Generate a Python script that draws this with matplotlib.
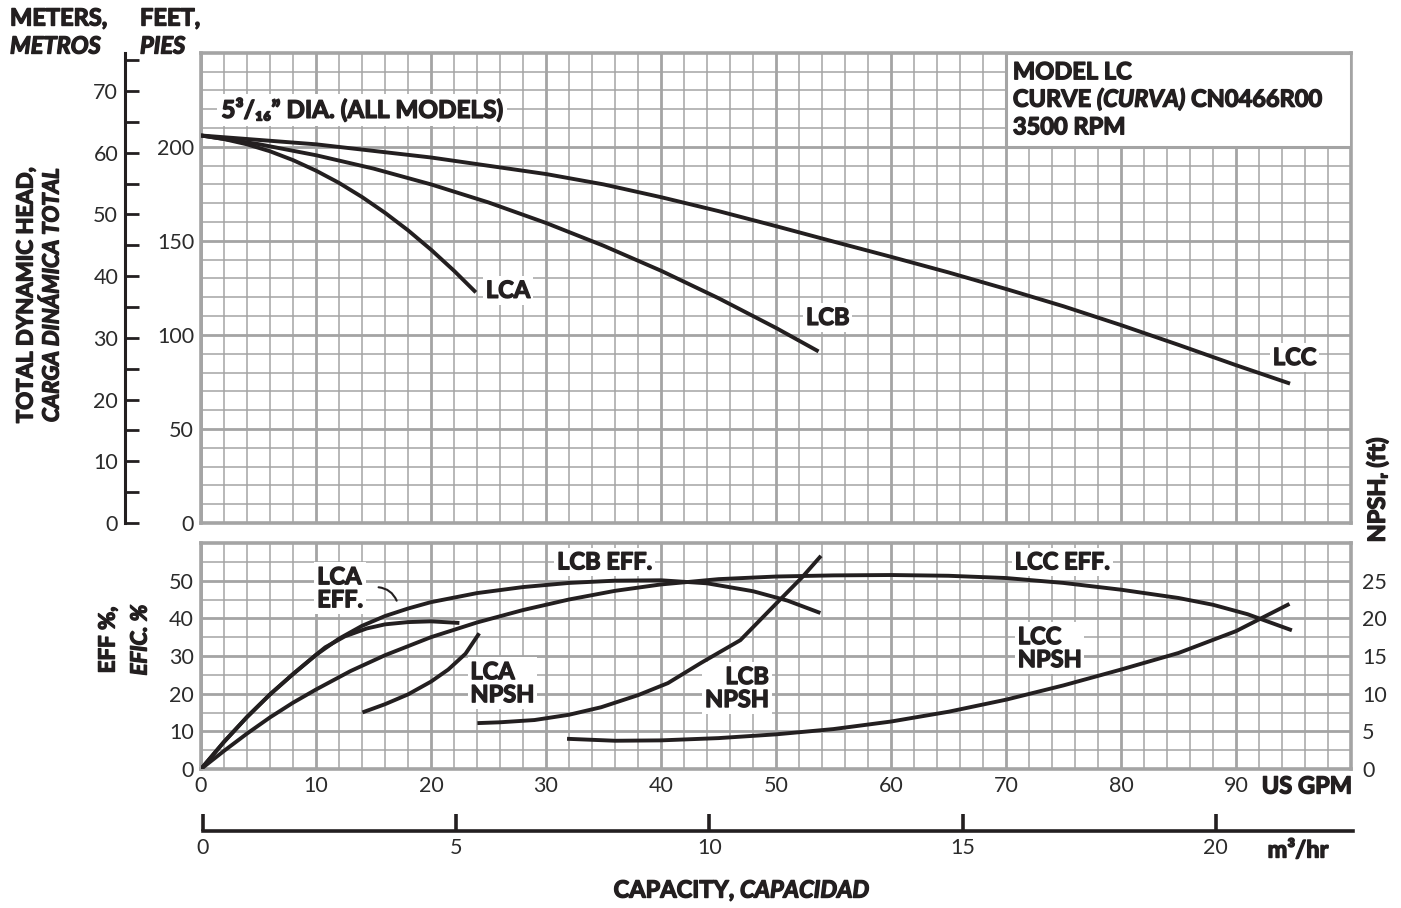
import matplotlib
matplotlib.use("Agg")
import matplotlib.pyplot as plt
import matplotlib.patheffects as pe
from matplotlib.ticker import MultipleLocator
from matplotlib.patches import Rectangle

plt.rcParams['font.family'] = ['Lato', 'DejaVu Sans']

BOLD = ['Lato', 'DejaVu Sans']
# the bold face installed is light next to the reference, so thicken it
FX = [pe.withStroke(linewidth=1.0, foreground='#231f20')]

# ---- data (GPM, feet / %) ----
lca_gpm = [0, 2, 4, 6, 8, 10, 12, 14, 16, 18, 20, 22, 23.9]
lca_head = [206, 204.1, 201.3, 197.6, 192.9, 187.3, 180.8, 173.3, 164.9, 155.6,
            145.3, 134.1, 122.6]

lcb_gpm = [0, 5, 10, 15, 20, 25, 30, 35, 40, 45, 50, 53.7]
lcb_head = [206, 201.4, 195.5, 188.4, 180.0, 170.4, 159.5, 147.4, 134.1, 119.5,
            103.7, 91.2]

lcc_gpm = [0, 10, 20, 30, 35, 40, 45, 50, 55, 60, 65, 70, 75, 80, 85, 90, 94.7]
lcc_head = [206, 201.3, 194.3, 185.5, 180, 173.2, 165.8, 157.8, 149.6, 141.5,
            133.2, 124.4, 115.2, 105.2, 94.7, 83.9, 74.1]

lca_eff_gpm = [0, 2, 4, 6, 8, 10, 10.8, 12.5, 14.4, 16, 18, 20, 22.3]
lca_eff = [0, 7.2, 13.8, 19.8, 25.2, 30.3, 32.3, 35.2, 37.3, 38.4, 39.0, 39.2, 38.8]

lcb_eff_gpm = [0, 2, 4, 6, 8, 10, 12, 14, 16, 18, 20, 24, 28, 32, 36, 40, 44,
               48, 51, 53.7]
lcb_eff = [0, 7.2, 13.8, 19.8, 25.2, 30.3, 34.6, 38.0, 40.6, 42.6, 44.3, 46.7,
           48.3, 49.4, 50.0, 50.1, 49.3, 47.2, 44.7, 41.6]

lcc_eff_gpm = [0, 2, 4, 6, 8, 10, 13, 16, 20, 24, 28, 32, 36, 40, 45, 50, 55,
               60, 65, 70, 75, 80, 85, 88, 91, 94.7]
lcc_eff = [0, 4.8, 9.4, 13.7, 17.6, 21.1, 26.0, 30.2, 35.0, 38.9, 42.2, 45.0,
           47.3, 49.0, 50.4, 51.1, 51.4, 51.5, 51.3, 50.7, 49.4, 47.6, 45.4,
           43.6, 41.1, 37.0]

lca_npsh_gpm = [14.2, 16, 18, 20, 21.5, 23, 24.1]
lca_npsh = [7.6, 8.6, 9.9, 11.6, 13.2, 15.3, 17.8]

lcb_npsh_gpm = [24.2, 26, 29, 32, 34.8, 38, 40.6, 43.5, 46.9, 50.3, 52.3, 53.8]
lcb_npsh = [6.1, 6.2, 6.5, 7.2, 8.2, 9.8, 11.4, 14.1, 17.1, 22.4, 25.5, 28.1]

lcc_npsh_gpm = [32, 36, 40, 45, 50, 55, 60, 65, 70, 75, 80, 85, 90, 94.5]
lcc_npsh = [4.0, 3.75, 3.8, 4.1, 4.6, 5.3, 6.3, 7.6, 9.2, 11.1, 13.2, 15.4,
            18.3, 21.8]

gpm_ticks = list(range(0, 100, 10))
ft_ticks = [0, 50, 100, 150, 200]
m_ticks = list(range(0, 80, 10))
eff_ticks = [0, 10, 20, 30, 40, 50]
npsh_ticks = [0, 5, 10, 15, 20, 25]
m3_ticks = [0, 5, 10, 15, 20]

W, H = 1401, 908
GRID = '#a4a4a4'
INK = '#231f20'
TXT = '#2b2b2b'
TICK = 15.5

fig = plt.figure(figsize=(W / 100, H / 100), dpi=100)


def box(l, t, r, b):
    return [l / W, 1 - b / H, (r - l) / W, (b - t) / H]


def grid_style(a, xmin, ymin):
    a.xaxis.set_minor_locator(MultipleLocator(xmin))
    a.yaxis.set_minor_locator(MultipleLocator(ymin))
    a.grid(which='major', color=GRID, lw=2.0, zorder=0)
    a.grid(which='minor', color=GRID, lw=1.1, zorder=0)
    a.set_axisbelow(True)
    for s in a.spines.values():
        s.set_color(GRID)
        s.set_linewidth(2.6)
    a.tick_params(which='both', length=0, labelsize=TICK, labelcolor=TXT)


# ---- head panel ----
ax = fig.add_axes(box(201, 52.7, 1351, 523))
ax.set_xlim(0, 100)
ax.set_ylim(0, 250)
ax.set_xticks(gpm_ticks)
ax.set_yticks(ft_ticks)
grid_style(ax, 2, 10)
ax.tick_params(axis='x', labelbottom=False)
ax.tick_params(axis='y', pad=5)

for xs, ys in [(lca_gpm, lca_head), (lcb_gpm, lcb_head), (lcc_gpm, lcc_head)]:
    ax.plot(xs, ys, color=INK, lw=2.8, solid_capstyle='butt', solid_joinstyle='round', zorder=3)

sec = ax.secondary_yaxis(-0.066, functions=(lambda f: f / 3.2808, lambda m: m * 3.2808))
sec.set_yticks(m_ticks)
sec.yaxis.set_minor_locator(MultipleLocator(5))
sec.spines['left'].set_linewidth(2.2)
sec.spines['left'].set_color(INK)
sec.tick_params(which='both', direction='in', length=10, width=2.0, color=INK,
                labelsize=TICK, labelcolor=TXT, pad=5)

lab_kw = dict(fontsize=17, fontweight='bold', family=BOLD, color=INK, zorder=5,
              path_effects=FX, bbox=dict(facecolor='white', edgecolor='none', pad=2))
ax.text(26.7, 123.7, 'LCA', ha='center', va='center', **lab_kw)
ax.text(54.5, 109.3, 'LCB', ha='center', va='center', **lab_kw)
ax.text(95.1, 88.0, 'LCC', ha='center', va='center', **lab_kw)
ax.text(14.0, 219.6, '5³/₁₆” DIA. (ALL MODELS)', ha='center', va='center',
        fontsize=17.5, fontweight='bold', family=BOLD, color=INK, zorder=5,
        path_effects=FX, bbox=dict(facecolor='white', edgecolor='none', pad=3))

ax.add_patch(Rectangle((70, 200), 30, 50, facecolor='white', edgecolor=GRID,
                       lw=2.2, zorder=4))


def pieces(a, x, y, parts, **kw):
    # draws text pieces one after another on a line
    t = None
    for txt, style in parts:
        if t is None:
            t = a.text(x, y, txt, style=style, **kw)
        else:
            t = a.annotate(txt, xy=(1, 0), xycoords=t, va='bottom', style=style,
                           **{k: v for k, v in kw.items() if k != 'va'})
    return t


hk = dict(fontsize=17, fontweight='bold', family=BOLD, color=INK, zorder=6,
          va='center', path_effects=FX)
ax.text(70.6, 239.9, 'MODEL LC', **hk)
pieces(ax, 70.6, 225.3, [('CURVE ', 'normal'), ('(CURVA)', 'italic'),
                         (' CN0466R00', 'normal')], **hk)
ax.text(70.6, 210.6, '3500 RPM', **hk)

# ---- efficiency / npsh panel ----
axb = fig.add_axes(box(201, 543, 1351, 769))
axb.set_xlim(0, 100)
axb.set_ylim(0, 60)
axb.set_xticks(gpm_ticks)
axb.set_yticks(eff_ticks)
grid_style(axb, 2, 5)
axb.tick_params(axis='y', pad=5)
axb.tick_params(axis='x', pad=5)

for xs, ys in [(lca_eff_gpm, lca_eff), (lcb_eff_gpm, lcb_eff), (lcc_eff_gpm, lcc_eff)]:
    axb.plot(xs, ys, color=INK, lw=2.8, solid_joinstyle='round', zorder=3)

axn = axb.twinx()
axn.set_ylim(0, 30)
axn.set_yticks(npsh_ticks)
axn.tick_params(length=0, labelsize=TICK, labelcolor=TXT, pad=8)
for s in axn.spines.values():
    s.set_visible(False)
for xs, ys in [(lca_npsh_gpm, lca_npsh), (lcb_npsh_gpm, lcb_npsh), (lcc_npsh_gpm, lcc_npsh)]:
    axn.plot(xs, ys, color=INK, lw=2.8, solid_joinstyle='round', zorder=3)

axb.text(12.1, 48.0, 'LCA\nEFF.', ha='center', va='center', multialignment='left',
         linespacing=1.0, **lab_kw)
axb.annotate('', xy=(17.1, 44.0), xytext=(15.2, 48.3),
             arrowprops=dict(arrowstyle='-', color=INK, lw=1.5,
                             connectionstyle='arc3,rad=-0.35'))
axb.text(35.1, 55.0, 'LCB EFF.', ha='center', va='center', **lab_kw)
axb.text(74.9, 55.0, 'LCC EFF.', ha='center', va='center', **lab_kw)
axb.text(26.2, 22.8, 'LCA\nNPSH', ha='center', va='center', multialignment='left',
         linespacing=1.0, **lab_kw)
axb.text(46.6, 21.5, 'LCB\nNPSH', ha='center', va='center', multialignment='right',
         linespacing=1.0, **lab_kw)
axb.text(73.8, 32.1, 'LCC\nNPSH', ha='center', va='center', multialignment='left',
         linespacing=1.0, **lab_kw)

# ---- m3/hr scale ----
axm = fig.add_axes(box(203, 830, 1353, 831))
axm.set_xlim(0, 100 / 4.4029)
axm.set_ylim(0, 1)
axm.set_yticks([])
axm.set_xticks(m3_ticks)
for k in ['top', 'left', 'right']:
    axm.spines[k].set_visible(False)
axm.spines['bottom'].set_linewidth(2.6)
axm.spines['bottom'].set_color(INK)
axm.tick_params(axis='x', direction='in', length=12, width=2.6, color=INK,
                labelsize=TICK, labelcolor=TXT, pad=5)
axm.patch.set_visible(False)

# ---- axis titles ----
bk = dict(fontsize=17, fontweight='bold', family=BOLD, color=INK, path_effects=FX)
rk = dict(bk, fontsize=16)
fig.text(10 / W, 1 - 18 / H, 'METERS,', ha='left', va='center', **bk)
fig.text(10 / W, 1 - 46 / H, 'METROS', ha='left', va='center', style='italic', **bk)
fig.text(140 / W, 1 - 18 / H, 'FEET,', ha='left', va='center', **bk)
fig.text(140 / W, 1 - 46 / H, 'PIES', ha='left', va='center', style='italic', **bk)
fig.text(26 / W, 1 - 295 / H, 'TOTAL DYNAMIC HEAD,', rotation=90, ha='center', va='center', **rk)
fig.text(52 / W, 1 - 295 / H, 'CARGA DINÁMICA TOTAL', rotation=90, ha='center', va='center',
         style='italic', **rk)
fig.text(108 / W, 1 - 640 / H, 'EFF %,', rotation=90, ha='center', va='center', **rk)
fig.text(140 / W, 1 - 640 / H, 'EFIC. %', rotation=90, ha='center', va='center',
         style='italic', **rk)
fig.text(1377 / W, 1 - 490 / H, 'NPSHᵣ (ft)', rotation=90, ha='center', va='center', **bk)
fig.text(1352 / W, 1 - 786 / H, 'US GPM', ha='right', va='center', **bk)
fig.text(1298 / W, 1 - 850 / H, 'm³/hr', ha='center', va='center', **bk)
fig.text(740 / W, 1 - 890 / H, 'CAPACITY, ', ha='right', va='center', **bk)
fig.text(740 / W, 1 - 890 / H, 'CAPACIDAD', ha='left', va='center', style='italic', **bk)

fig.savefig('out.png', dpi=100)
